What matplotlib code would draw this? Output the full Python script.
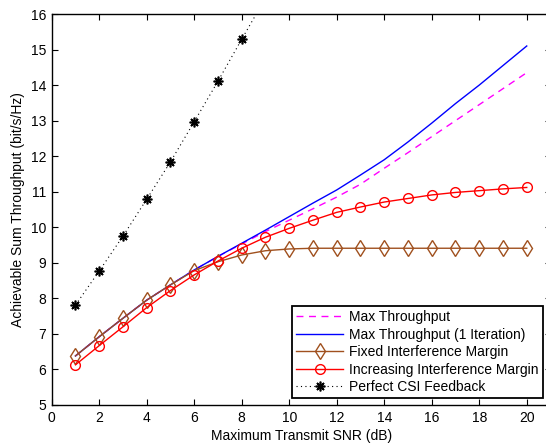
import matplotlib
matplotlib.use("Agg")
import matplotlib.pyplot as plt

snr = list(range(1, 21))
max_tp = [6.38, 6.92, 7.44, 7.95, 8.38, 8.80, 9.18, 9.53, 9.88, 10.20,
          10.52, 10.85, 11.21, 11.66, 12.10, 12.55, 13.00, 13.45, 13.90, 14.35]
max_tp_1it = [6.38, 6.92, 7.44, 7.95, 8.38, 8.80, 9.18, 9.55, 9.92, 10.30,
              10.68, 11.05, 11.47, 11.90, 12.40, 12.93, 13.48, 14.00, 14.55, 15.10]
fixed_im = [6.38, 6.92, 7.44, 7.95, 8.38, 8.78, 9.03, 9.22, 9.34, 9.39,
            9.41, 9.41, 9.41, 9.41, 9.41, 9.41, 9.41, 9.41, 9.41, 9.41]
incr_im = [6.13, 6.67, 7.20, 7.74, 8.22, 8.66, 9.05, 9.41, 9.72, 9.97,
           10.20, 10.42, 10.57, 10.71, 10.81, 10.91, 10.98, 11.03, 11.08, 11.12]
csi_snr = [1, 2, 3, 4, 5, 6, 7, 8, 9]
csi = [7.81, 8.77, 9.75, 10.79, 11.84, 12.97, 14.11, 15.29, 16.45]

plt.rcParams['font.family'] = ['Liberation Sans', 'DejaVu Sans']
plt.rcParams['font.size'] = 10

fig = plt.figure(figsize=(5.46, 4.45), dpi=100)
ax = fig.add_axes([51.7/546, 40/445, 498.8/546, 391/445])

brown = '#a0501e'
ax.plot(snr, max_tp, color='#ff00ff', ls=(0, (5, 4)), lw=1.0, label='Max Throughput')
ax.plot(snr, max_tp_1it, color='#0000ff', lw=1.0, label='Max Throughput (1 Iteration)')
ax.plot(snr, fixed_im, color=brown, lw=1.0, marker='d', ms=8, mfc='none',
        mec=brown, mew=1.0, label='Fixed Interference Margin')
ax.plot(snr, incr_im, color='#ff0000', lw=1.0, marker='o', ms=7, mfc='none',
        mec='#ff0000', mew=1.0, label='Increasing Interference Margin')
ax.plot(csi_snr, csi, color='black', ls=(0, (1, 3)), lw=0.8, marker=(8, 2, 0), ms=7,
        mew=1.2, label='Perfect CSI Feedback')

ax.set_xlim(0, 21)
ax.set_ylim(5, 16)
ax.set_xticks(range(0, 21, 2))
ax.set_yticks(range(5, 17))
ax.tick_params(direction='in', top=True, right=True, length=4, width=0.8,
               labelsize=10, pad=4)
for s in ax.spines.values():
    s.set_linewidth(1.0)
ax.spines['right'].set_visible(False)

ax.set_xlabel('Maximum Transmit SNR (dB)', fontsize=10, labelpad=3)
ax.set_ylabel('Achievable Sum Throughput (bit/s/Hz)', fontsize=10, labelpad=4)

leg = ax.legend(loc='lower right', bbox_to_anchor=(0.984, 0.017), borderaxespad=0,
                fancybox=False, edgecolor='black', framealpha=1, fontsize=10,
                handlelength=3.4, handletextpad=0.4, labelspacing=0.25,
                borderpad=0.3)
leg.get_frame().set_linewidth(1.3)

fig.savefig('out.png', dpi=100)
